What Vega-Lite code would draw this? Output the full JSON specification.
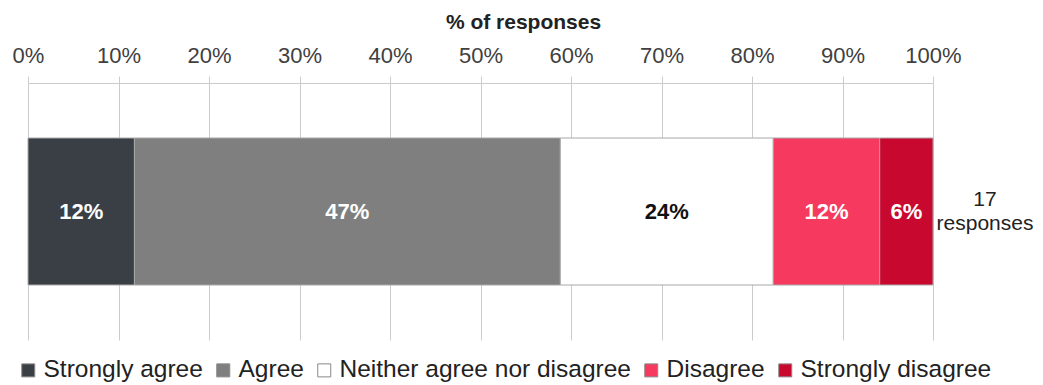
{
  "$schema": "https://vega.github.io/schema/vega-lite/v6.json",
  "width": 905,
  "height": 257,
  "autosize": {"type": "none"},
  "padding": {"left": 28, "top": 83, "right": 110, "bottom": 45},
  "background": "white",
  "config": {"view": {"stroke": null}, "font": "Liberation Sans"},
  "data": {
    "values": [
      {"response": "Strongly agree", "pct": 11.76, "label": "12%", "order": 1},
      {"response": "Agree", "pct": 47.06, "label": "47%", "order": 2},
      {"response": "Neither agree nor disagree", "pct": 23.53, "label": "24%", "order": 3},
      {"response": "Disagree", "pct": 11.76, "label": "12%", "order": 4},
      {"response": "Strongly disagree", "pct": 5.89, "label": "6%", "order": 5}
    ]
  },
  "transform": [
    {"stack": "pct", "groupby": [], "sort": [{"field": "order"}], "as": ["x0", "x1"]},
    {"calculate": "(datum.x0 + datum.x1) / 2", "as": "xm"}
  ],
  "layer": [
    {
      "mark": {"type": "bar", "size": 147, "stroke": "#a8a8a8", "strokeWidth": 1},
      "encoding": {
        "x": {
          "field": "x0",
          "type": "quantitative",
          "scale": {"domain": [0, 100]},
          "axis": {
            "orient": "top",
            "title": "% of responses",
            "titleFontSize": 21,
            "titleFontWeight": "bold",
            "titleColor": "#222222",
            "titlePadding": 12,
            "titleX": 495,
            "values": [0, 10, 20, 30, 40, 50, 60, 70, 80, 90, 100],
            "labelExpr": "datum.value + '%'",
            "labelFlush": false,
            "labelFontSize": 22,
            "labelColor": "#404040",
            "labelPadding": 9,
            "grid": true,
            "gridColor": "#cccccc",
            "domainColor": "#cccccc",
            "tickColor": "#cccccc",
            "tickSize": 7
          }
        },
        "x2": {"field": "x1"},
        "color": {
          "field": "response",
          "type": "nominal",
          "sort": ["Strongly agree", "Agree", "Neither agree nor disagree", "Disagree", "Strongly disagree"],
          "scale": {
            "domain": ["Strongly agree", "Agree", "Neither agree nor disagree", "Disagree", "Strongly disagree"],
            "range": ["#3a3f46", "#7f7f7f", "#ffffff", "#f5395f", "#c9082f"]
          },
          "legend": {
            "orient": "none",
            "legendX": -12,
            "legendY": 275,
            "direction": "horizontal",
            "columns": 5,
            "title": null,
            "symbolType": "square",
            "symbolSize": 169,
            "symbolStrokeColor": "#888888",
            "symbolStrokeWidth": 1,
            "symbolOpacity": 1,
            "labelFontSize": 24.5,
            "labelColor": "#222222",
            "labelOffset": 3,
            "columnPadding": 8,
            "padding": 0,
            "labelLimit": 400
          }
        },
        "order": {"field": "order"}
      }
    },
    {
      "mark": {"type": "text", "fontWeight": "bold", "fontSize": 22, "baseline": "middle"},
      "encoding": {
        "x": {"field": "xm", "type": "quantitative"},
        "text": {"field": "label"},
        "color": {
          "condition": {"test": "datum.response === 'Neither agree nor disagree'", "value": "#111111"},
          "value": "#ffffff"
        }
      }
    },
    {
      "data": {"values": [{"position": 100, "lines": ["17", "responses"]}]},
      "mark": {"type": "text", "fontSize": 21, "color": "#222222", "dx": 52, "dy": -12, "baseline": "middle", "lineHeight": 24},
      "encoding": {
        "x": {"field": "position", "type": "quantitative"},
        "text": {"field": "lines"}
      }
    }
  ]
}
